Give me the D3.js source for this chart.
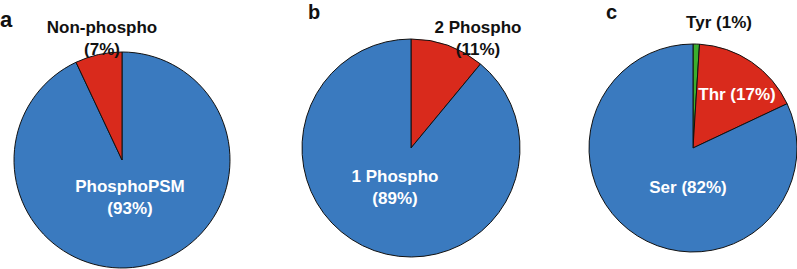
<!DOCTYPE html>
<html><head><meta charset="utf-8">
<script src="https://cdn.jsdelivr.net/npm/d3@7"></script>
<style>body{margin:0;background:#fff}svg{display:block}text{font-family:"Liberation Sans",Arial,sans-serif;font-weight:bold}</style>
</head><body><svg id="c" width="797" height="269"></svg>
<script>
// Panel a
const catsA = ["PhosphoPSM", "Non-phospho"];
const valsA = [93, 7];
// Panel b
const catsB = ["2 Phospho", "1 Phospho"];
const valsB = [11, 89];
// Panel c
const catsC = ["Tyr", "Thr", "Ser"];
const valsC = [1, 17, 82];
const panelLetters = ["a", "b", "c"];

const colorMap = {"PhosphoPSM":"#3a7abf","Non-phospho":"#d92a1c","2 Phospho":"#d92a1c","1 Phospho":"#3a7abf","Tyr":"#3aae2e","Thr":"#d92a1c","Ser":"#3a7abf"};

const svg = d3.select("#c");
const panels = [
  {cats:catsA, vals:valsA, cx:122, cy:160, r:108, letter:[0,27,22],
   labels:[{t:["PhosphoPSM","(93%)"], x:130, y:192, fill:"#fff"},{t:["Non-phospho","(7%)"], x:102, y:33, fill:"#111"}]},
  {cats:catsB, vals:valsB, cx:411, cy:148, r:109, letter:[308,19,20],
   labels:[{t:["2 Phospho","(11%)"], x:478, y:33, fill:"#111"},{t:["1 Phospho","(89%)"], x:395, y:182, fill:"#fff"}]},
  {cats:catsC, vals:valsC, cx:693, cy:148, r:104, letter:[606,19,20],
   labels:[{t:["Tyr (1%)"], x:719, y:28, fill:"#111"},{t:["Thr (17%)"], x:737, y:100, fill:"#fff"},{t:["Ser (82%)"], x:688, y:193, fill:"#fff"}]}
];

panels.forEach((p,i)=>{
  const pie = d3.pie().sort(null).value(d=>d.v);
  const data = pie(p.cats.map((c,j)=>({c, v:p.vals[j]})));
  const arc = d3.arc().innerRadius(0).outerRadius(p.r);
  const g = svg.append("g").attr("transform",`translate(${p.cx},${p.cy})`);
  g.selectAll("path").data(data).join("path")
    .attr("d",arc).attr("fill",d=>colorMap[d.data.c])
    .attr("stroke","#111").attr("stroke-width",1).attr("stroke-linejoin","round");
  svg.append("text").attr("x",p.letter[0]).attr("y",p.letter[1]).attr("font-size",p.letter[2]).attr("fill","#111").text(panelLetters[i]);
  p.labels.forEach(l=>{
    const t = svg.append("text").attr("text-anchor","middle").attr("font-size",17).attr("fill",l.fill);
    l.t.forEach((s,k)=>t.append("tspan").attr("x",l.x).attr("y",l.y+k*21.5).text(s));
  });
});
</script></body></html>
